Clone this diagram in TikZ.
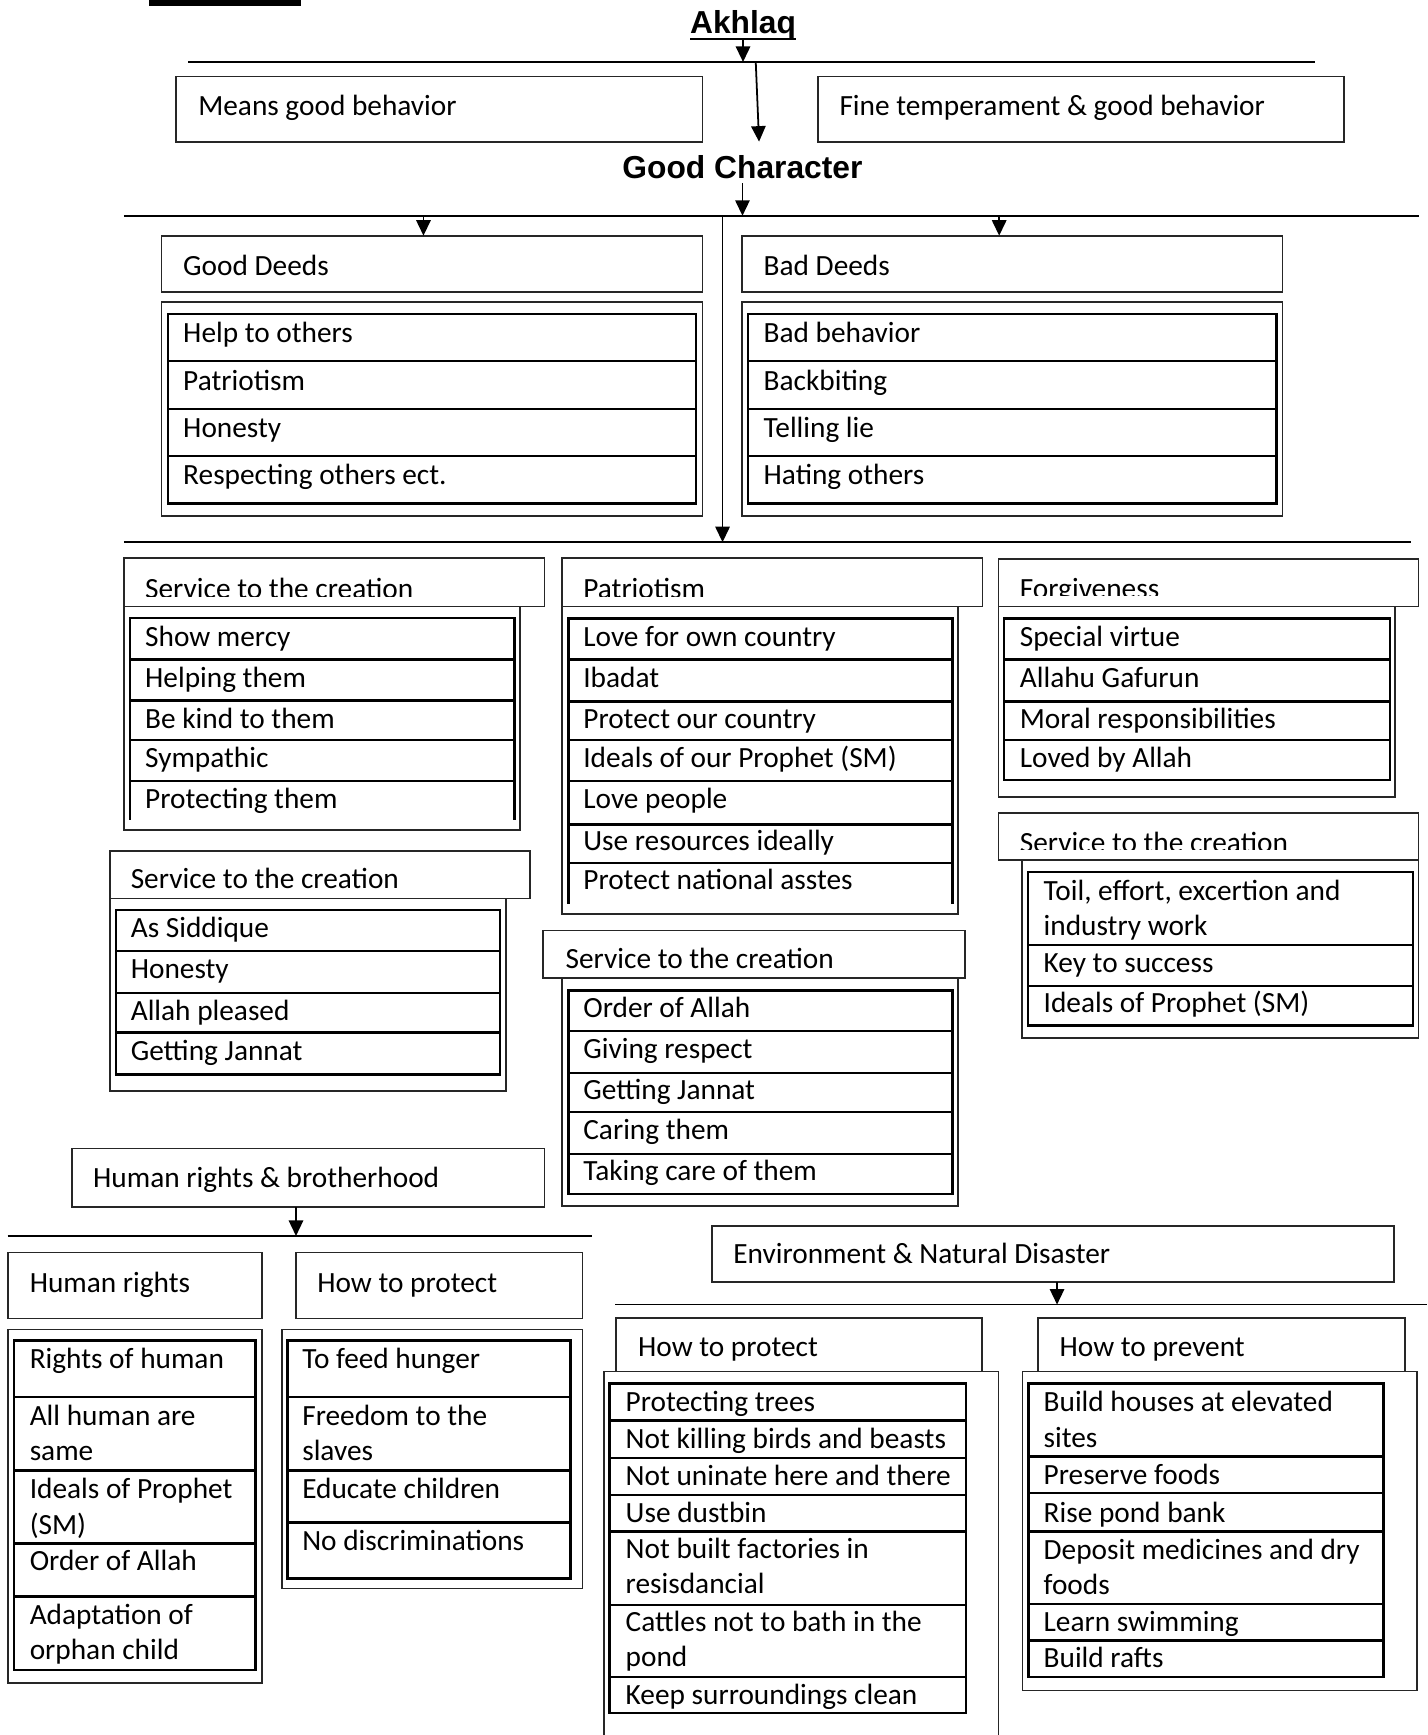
\documentclass[tikz,border=0pt]{standalone}
\usepackage{fontspec}
\setmainfont{Carlito}
\newfontfamily\headfont{Liberation Sans}
\usetikzlibrary{arrows.meta}
\newcounter{tn}
\newcommand\tx[3]{\stepcounter{tn}\node[tx] (t\arabic{tn}) at (#1,#2) {#3};}
\newcommand\bx[6][ob]{\node[#1,minimum width={(#5-#3)*1pt},minimum height={(#6-#4)*1pt}] (#2) at (#3,#4) {};}
\newcommand\hl[3]{\draw[il] (#1,#3) -- (#2,#3);}
\begin{document}
\begin{tikzpicture}[x=1pt,y=-1pt,
  ob/.style={draw=black!85, line width=1.5pt, anchor=north west, inner sep=0pt, outer sep=0pt},
  ib/.style={draw=black, line width=2.2pt, anchor=north west, inner sep=0pt, outer sep=0pt},
  il/.style={draw=black, line width=2.2pt},
  ol/.style={draw=black!85, line width=1.5pt},
  ln/.style={line width=1.6pt},
  arr/.style={line width=1.6pt, -{Triangle[width=13pt,length=14pt]}},
  tx/.style={anchor=base west, inner sep=0pt, font=\fontsize{26.5}{32}\selectfont},
  hd/.style={anchor=base, inner sep=0pt, font=\headfont\bfseries\fontsize{28.7}{34}\selectfont}]
\useasboundingbox (0,0) rectangle (1290,1568);

% top bar
\fill (135,0) rectangle (272,5);

% ---------- Akhlaq ----------
\node[hd] (akh) at (671.5,30) {Akhlaq};
\draw[line width=2.2pt] (624,35) -- (719,35);
\coordinate (b1l) at (170,56); \coordinate (b1r) at (1188,56);
\draw[ln] (b1l) -- (b1r);
\draw[arr] (akh.south) -- (akh.south |- b1l);

\bx{means}{159}{69}{635}{128.5}
\tx{179}{104}{Means good behavior}
\bx{fine}{739.5}{69}{1214.5}{128.5}
\tx{758.5}{104}{Fine temperament \& good behavior}

\coordinate (a2s) at (683,56); \coordinate (a2e) at (686,128);
\draw[arr] (a2s) -- (a2e);

% ---------- Good Character ----------
\node[hd] (gc) at (671,161) {Good Character};
\coordinate (b2l) at (112,195); \coordinate (b2r) at (1282,195);
\draw[ln] (b2l) -- (b2r);
\draw[arr] ([yshift=-4pt]gc.south) -- (gc.south |- b2l);

\coordinate (gdA) at (382.7,195);
\coordinate (bdA) at (903,195);
\coordinate (vt) at (653,195);
\coordinate (b3l) at (112,490); \coordinate (b3r) at (1275,490);
\coordinate (b3m) at (653,490);
\draw[ln] (b3l) -- (b3r);
\draw[arr] (vt) -- (b3m);

% Good deeds
\bx{gdh}{146}{213}{635}{264}
\draw[arr] (gdA) -- (gdA |- gdh.north);
\tx{165.4}{248.6}{Good Deeds}
\bx{gdo}{146}{273}{635}{466.5}
\bx[ib]{gdi}{152}{284}{629}{455}
\hl{152}{629}{326.3}\hl{152}{629}{369.7}\hl{152}{629}{412.2}
\tx{165.4}{309.5}{Help to others}
\tx{165.4}{352.5}{Patriotism}
\tx{165.4}{395}{Honesty}
\tx{165.4}{437.5}{Respecting others ect.}

% Bad deeds
\bx{bdh}{670.5}{213}{1159}{264}
\draw[arr] (bdA) -- (bdA |- bdh.north);
\tx{690}{248.6}{Bad Deeds}
\bx{bdo}{670.5}{273}{1159}{466.5}
\bx[ib]{bdi}{676}{284}{1153.5}{455}
\hl{676}{1153.5}{326.3}\hl{676}{1153.5}{369.7}\hl{676}{1153.5}{412.2}
\tx{690}{309.5}{Bad behavior}
\tx{690}{352.5}{Backbiting}
\tx{690}{395}{Telling lie}
\tx{690}{437.5}{Hating others}

% ---------- Service 1 ----------
\bx{s1h}{112}{504.5}{492}{548}
\begin{scope}
\clip (112,504.5) rectangle (492,539);
\tx{131}{541}{Service to the creation}
\end{scope}
\bx{s1o}{112}{548}{470}{750}
\bx[ib]{s1i}{117.5}{558.6}{465}{706}
\hl{117.5}{465}{596}\hl{117.5}{465}{633}\hl{117.5}{465}{669}
\draw[il] (117.5,706) -- (117.5,741);
\draw[il] (465,706) -- (465,741);
\tx{131}{584}{Show mercy}
\tx{131}{621.5}{Helping them}
\tx{131}{658.5}{Be kind to them}
\tx{131}{694}{Sympathic}
\tx{131}{730.5}{Protecting them}

% ---------- Service 2 ----------
\bx{s2h}{99.5}{769}{479}{812}
\tx{118}{803}{Service to the creation}
\bx{s2o}{99.5}{812}{457.5}{986}
\bx[ib]{s2i}{105}{822.6}{452}{971}
\hl{105}{452}{859.5}\hl{105}{452}{897.6}\hl{105}{452}{933}
\tx{118}{847.5}{As Siddique}
\tx{118}{884}{Honesty}
\tx{118}{922}{Allah pleased}
\tx{118}{958}{Getting Jannat}

% ---------- Patriotism ----------
\bx{pth}{508}{504.5}{888}{548}
\begin{scope}
\clip (508,504.5) rectangle (888,539);
\tx{527}{541}{Patriotism}
\end{scope}
\bx{pto}{508}{548}{866}{826}
\bx[ib]{pti}{513.8}{559}{861}{780}
\hl{513.8}{861}{596}\hl{513.8}{861}{634}\hl{513.8}{861}{669}\hl{513.8}{861}{706}\hl{513.8}{861}{745}
\draw[il] (513.8,780) -- (513.8,817);
\draw[il] (861,780) -- (861,817);
\tx{527}{584}{Love for own country}
\tx{527}{621.5}{Ibadat}
\tx{527}{658.7}{Protect our country}
\tx{527}{694}{Ideals of our Prophet (SM)}
\tx{527}{731}{Love people}
\tx{527}{768.5}{Use resources ideally}
\tx{527}{804}{Protect national asstes}

% ---------- Service 3 ----------
\bx{s3h}{491}{841}{872}{884}
\tx{511}{875.5}{Service to the creation}
\bx{s3o}{508}{884}{866}{1090}
\bx[ib]{s3i}{513.8}{895}{861}{1079}
\hl{513.8}{861}{932}\hl{513.8}{861}{969.5}\hl{513.8}{861}{1005}\hl{513.8}{861}{1043}
\tx{527}{919.5}{Order of Allah}
\tx{527}{956.7}{Giving respect}
\tx{527}{994}{Getting Jannat}
\tx{527}{1029.5}{Caring them}
\tx{527}{1066.5}{Taking care of them}

% ---------- Forgiveness ----------
\bx{fgh}{902.5}{505}{1282}{548}
\begin{scope}
\clip (902.5,505) rectangle (1282,538.5);
\tx{921.5}{541}{Forgiveness}
\end{scope}
\bx{fgo}{902.5}{548}{1260.5}{720}
\bx[ib]{fgi}{907.6}{559}{1256}{705}
\hl{907.6}{1256}{596}\hl{907.6}{1256}{634}\hl{907.6}{1256}{669}
\tx{921.5}{584}{Special virtue}
\tx{921.5}{621}{Allahu Gafurun}
\tx{921.5}{658.5}{Moral responsibilities}
\tx{921.5}{693.5}{Loved by Allah}

% ---------- Service 4 ----------
\bx{s4h}{902.5}{735}{1282}{777.5}
\begin{scope}
\clip (902.5,735) rectangle (1282,767.8);
\tx{921.5}{770.3}{Service to the creation}
\end{scope}
\bx{s4o}{923.6}{777.5}{1282}{938}
\bx[ib]{s4i}{929}{788}{1277}{926.6}
\hl{929}{1277}{854}\hl{929}{1277}{891}
\tx{943}{813.5}{Toil, effort, excertion and}
\tx{943}{845.5}{industry work}
\tx{943}{878.5}{Key to success}
\tx{943}{915}{Ideals of Prophet (SM)}

% ---------- Human rights ----------
\bx{hrb}{65}{1038}{492}{1091}
\tx{84}{1073}{Human rights \& brotherhood}
\coordinate (b4l) at (7,1117); \coordinate (b4r) at (535,1117);
\draw[ln] (b4l) -- (b4r);
\coordinate (hrA) at (267.5,1091);
\draw[arr] (hrA) -- (hrA |- b4l);

\bx{hrh}{7}{1132}{237}{1191.5}
\tx{26.7}{1167.7}{Human rights}
\bx{hph}{267.5}{1132}{526.5}{1191.5}
\tx{286.6}{1167.7}{How to protect}

\bx{hro}{7}{1201.5}{237}{1521}
\bx[ib]{hri}{12.5}{1211.4}{231}{1509}
\hl{12.5}{231}{1262.6}\hl{12.5}{231}{1329}\hl{12.5}{231}{1395}\hl{12.5}{231}{1443}
\tx{26.7}{1237}{Rights of human}
\tx{26.7}{1288}{All human are}
\tx{26.7}{1320}{same}
\tx{26.7}{1354.5}{Ideals of Prophet}
\tx{26.7}{1386.5}{(SM)}
\tx{26.7}{1419.5}{Order of Allah}
\tx{26.7}{1468}{Adaptation of}
\tx{26.7}{1500}{orphan child}

\bx{hpo}{255}{1201.5}{526.5}{1435.6}
\bx[ib]{hpi}{260}{1211.4}{515.5}{1426.6}
\hl{260}{515.5}{1262.6}\hl{260}{515.5}{1329}\hl{260}{515.5}{1376}
\tx{273}{1237}{To feed hunger}
\tx{273}{1288}{Freedom to the}
\tx{273}{1320}{slaves}
\tx{273}{1354.5}{Educate children}
\tx{273}{1401.5}{No discriminations}

% ---------- Environment ----------
\bx{env}{643.5}{1108}{1260}{1158.6}
\tx{662.6}{1142}{Environment \& Natural Disaster}
\coordinate (b5l) at (556,1179); \coordinate (b5r) at (1290,1179);
\draw[ln] (b5l) -- (b5r);
\coordinate (enA) at (955.3,1158.6);
\draw[arr] (enA) -- (enA |- b5l);

\bx{eph}{556.7}{1191}{887.6}{1239.6}
\tx{576.5}{1225.5}{How to protect}
\draw[ol] (546,1568) -- (546,1239.6) -- (902.3,1239.6) -- (902.3,1568);
\bx[ib]{epi}{551}{1250.5}{872.8}{1548.3}
\hl{551}{872.8}{1283.7}\hl{551}{872.8}{1317.8}\hl{551}{872.8}{1350.9}\hl{551}{872.8}{1384}\hl{551}{872.8}{1450.3}\hl{551}{872.8}{1515.8}
\tx{565.3}{1276}{Protecting trees}
\tx{565.3}{1309.3}{Not killing birds and beasts}
\tx{565.3}{1342.5}{Not uninate here and there}
\tx{565.3}{1375.6}{Use dustbin}
\tx{565.3}{1408.7}{Not built factories in}
\tx{565.3}{1440.5}{resisdancial}
\tx{565.3}{1474.5}{Cattles not to bath in the}
\tx{565.3}{1506.5}{pond}
\tx{565.3}{1540}{Keep surroundings clean}

\bx{evh}{938}{1191}{1269.5}{1239.6}
\tx{957.5}{1225.5}{How to prevent}
\bx{evo}{924}{1239.6}{1280.5}{1527.8}
\bx[ib]{evi}{929.5}{1250.5}{1250.5}{1515.8}
\hl{929.5}{1250.5}{1316.3}\hl{929.5}{1250.5}{1349.4}\hl{929.5}{1250.5}{1384}\hl{929.5}{1250.5}{1449.4}\hl{929.5}{1250.5}{1482.6}
\tx{943}{1276}{Build houses at elevated}
\tx{943}{1308}{sites}
\tx{943}{1342}{Preserve foods}
\tx{943}{1375.5}{Rise pond bank}
\tx{943}{1409}{Deposit medicines and dry}
\tx{943}{1441}{foods}
\tx{943}{1474.5}{Learn swimming}
\tx{943}{1507}{Build rafts}
\end{tikzpicture}
\end{document}
